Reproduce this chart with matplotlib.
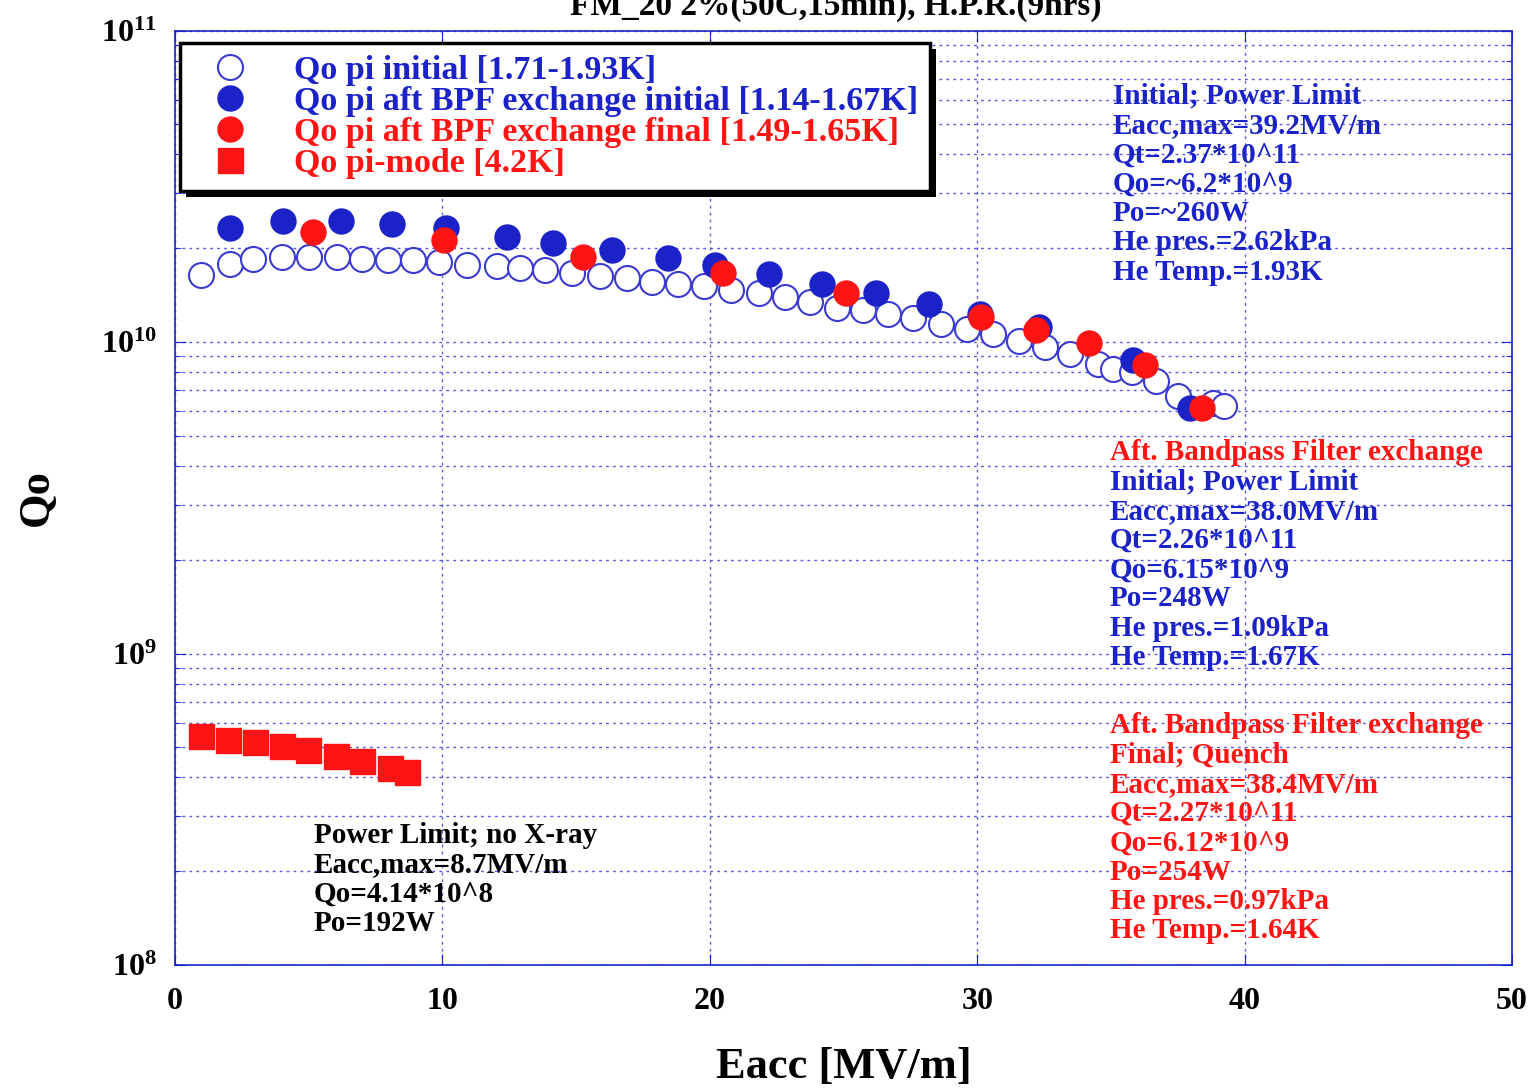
import numpy as np
import matplotlib
matplotlib.use('Agg')
import matplotlib.pyplot as plt
from matplotlib.patches import Rectangle
from matplotlib.ticker import FixedLocator, LogLocator, NullFormatter, FixedFormatter

plt.rcParams['font.family'] = ['Liberation Serif', 'DejaVu Serif']
plt.rcParams['font.weight'] = 'bold'
plt.rcParams['axes.labelweight'] = 'bold'
plt.rcParams['mathtext.fontset'] = 'custom'
plt.rcParams['mathtext.rm'] = 'Liberation Serif:bold'
plt.rcParams['mathtext.it'] = 'Liberation Serif:bold'
plt.rcParams['mathtext.bf'] = 'Liberation Serif:bold'

BLUE = '#1a22c8'
RED = '#ff1414'
GRID = '#5a5ae0'

# Qo pi initial [1.71-1.93K]
init_e = [0.96, 2.06, 2.93, 3.99, 5.02, 6.05, 6.98, 7.98, 8.91, 9.88, 10.91, 12.03, 12.90,
          13.84, 14.84, 15.89, 16.89, 17.83, 18.82, 19.78, 20.79, 21.85, 22.81, 23.75, 24.77,
          25.74, 26.68, 27.61, 28.64, 29.61, 30.60, 31.56, 32.53, 33.47, 34.53, 35.07, 35.78,
          36.69, 37.52, 38.83, 39.23]
init_q = [1.64e10, 1.78e10, 1.85e10, 1.87e10, 1.87e10, 1.88e10, 1.85e10, 1.84e10, 1.83e10,
          1.81e10, 1.77e10, 1.75e10, 1.73e10, 1.70e10, 1.66e10, 1.63e10, 1.60e10, 1.56e10,
          1.53e10, 1.51e10, 1.47e10, 1.44e10, 1.39e10, 1.34e10, 1.29e10, 1.27e10, 1.23e10,
          1.19e10, 1.14e10, 1.10e10, 1.06e10, 1.01e10, 9.66e9, 9.15e9, 8.51e9, 8.19e9, 7.99e9,
          7.47e9, 6.72e9, 6.39e9, 6.24e9]

# Qo pi aft BPF exchange initial [1.14-1.67K]
bpf_init_e = [2.06, 4.05, 6.20, 8.13, 10.12, 12.40, 14.15, 16.33, 18.45, 20.19, 22.22, 24.18,
              26.22, 28.21, 30.10, 32.31, 35.84, 37.96]
bpf_init_q = [2.32e10, 2.44e10, 2.44e10, 2.39e10, 2.32e10, 2.18e10, 2.08e10, 1.98e10, 1.86e10,
              1.77e10, 1.65e10, 1.54e10, 1.44e10, 1.32e10, 1.23e10, 1.12e10, 8.77e9, 6.14e9]

# Qo pi aft BPF exchange final [1.49-1.65K]
bpf_final_e = [5.15, 10.06, 15.25, 20.48, 25.08, 30.16, 32.20, 34.19, 36.27, 38.40]
bpf_final_q = [2.26e10, 2.12e10, 1.88e10, 1.66e10, 1.44e10, 1.20e10, 1.09e10, 9.91e9, 8.45e9, 6.14e9]

# Qo pi-mode [4.2K]
pimode_e = [0.96, 1.99, 2.99, 3.99, 4.99, 6.02, 7.00, 8.04, 8.67]
pimode_q = [5.42e8, 5.29e8, 5.19e8, 5.04e8, 4.89e8, 4.68e8, 4.51e8, 4.29e8, 4.16e8]

fig = plt.figure(figsize=(15.4, 10.88), dpi=100)
ax = fig.add_axes([175 / 1540, 1 - 965 / 1088, 1337 / 1540, 934.5 / 1088])

ax.plot(init_e, init_q, 'o', ms=18, mfc='white', mec='#3a3ad0', mew=1.5,
        label='Qo pi initial [1.71-1.93K]')
ax.plot(bpf_init_e, bpf_init_q, 'o', ms=18, mfc=BLUE, mec=BLUE,
        label='Qo pi aft BPF exchange initial [1.14-1.67K]')
ax.plot(bpf_final_e, bpf_final_q, 'o', ms=18, mfc=RED, mec=RED,
        label='Qo pi aft BPF exchange final [1.49-1.65K]')
ax.plot(pimode_e, pimode_q, 's', ms=18, mfc=RED, mec=RED,
        label='Qo pi-mode [4.2K]')

ax.set_yscale('log')
ax.set_xlim(0, 50)
ax.set_ylim(1e8, 1e11)
ax.xaxis.set_major_locator(FixedLocator([0, 10, 20, 30, 40, 50]))
ax.set_xticklabels(['0', '10', '20', '30', '40', '50'])
ax.yaxis.set_major_locator(FixedLocator([1e8, 1e9, 1e10, 1e11]))
ax.yaxis.set_major_formatter(FixedFormatter(['$10^{8}$', '$10^{9}$', '$10^{10}$', '$10^{11}$']))
ax.yaxis.set_minor_locator(LogLocator(base=10, subs=np.arange(2, 10)))
ax.yaxis.set_minor_formatter(NullFormatter())
ax.tick_params(which='both', direction='in', top=True, right=True, colors=BLUE,
               labelcolor='black', labelsize=23)
ax.tick_params(which='major', length=8)
ax.tick_params(which='minor', length=4)
ax.tick_params(axis='x', pad=16)
ax.tick_params(axis='y', pad=13)
for s in ax.spines.values():
    s.set_color(BLUE)
    s.set_linewidth(1.2)

ax.grid(True, which='major', axis='x', ls=(0, (2, 3)), color=GRID, lw=1)
ax.grid(True, which='both', axis='y', ls=(0, (2, 3)), color=GRID, lw=1)

ax.set_xlabel('Eacc [MV/m]', fontsize=32, labelpad=22)
ax.set_ylabel('Qo', fontsize=32, labelpad=32)

leg = ax.legend(loc='upper left', bbox_to_anchor=(0.004, 0.9866), borderaxespad=0,
                fontsize=24.5, frameon=True, fancybox=False, handletextpad=0.8,
                labelspacing=0.0, borderpad=0.35, handlelength=2.2, framealpha=1)
leg.get_frame().set_edgecolor('black')
leg.get_frame().set_linewidth(2.5)
for t, c in zip(leg.get_texts(), [BLUE, BLUE, RED, RED]):
    t.set_color(c)

# thick black drop shadow behind the legend box
fig.canvas.draw()
bb = leg.get_window_extent()
shadow = Rectangle((bb.x0 + 6, bb.y0 - 6), bb.width, bb.height, transform=None,
                   facecolor='black', edgecolor='none', zorder=leg.get_zorder() - 0.1)
ax.add_artist(shadow)

fig.text(836 / 1540, 1 - 15 / 1088, 'FM_20 2%(50C,15min), H.P.R.(9hrs)', fontsize=24,
         ha='center', va='baseline')


def block(x, y, lines, colors, dy=29.3, size=21):
    for i, (txt, c) in enumerate(zip(lines, colors)):
        fig.text(x / 1540, 1 - (y + i * dy) / 1088, txt, fontsize=size, color=c,
                 ha='left', va='baseline')


top_lines = ['Initial; Power Limit', 'Eacc,max=39.2MV/m', 'Qt=2.37*10^11', 'Qo=~6.2*10^9',
             'Po=~260W', 'He pres.=2.62kPa', 'He Temp.=1.93K']
block(1113, 104, top_lines, [BLUE] * 7)

mid_lines = ['Aft. Bandpass Filter exchange', 'Initial; Power Limit', 'Eacc,max=38.0MV/m',
             'Qt=2.26*10^11', 'Qo=6.15*10^9', 'Po=248W', 'He pres.=1.09kPa', 'He Temp.=1.67K']
block(1110, 460, mid_lines, [RED] + [BLUE] * 7)

bot_lines = ['Aft. Bandpass Filter exchange', 'Final; Quench', 'Eacc,max=38.4MV/m',
             'Qt=2.27*10^11', 'Qo=6.12*10^9', 'Po=254W', 'He pres.=0.97kPa', 'He Temp.=1.64K']
block(1110, 733, bot_lines, [RED] * 8)

pi_lines = ['Power Limit; no X-ray', 'Eacc,max=8.7MV/m', 'Qo=4.14*10^8', 'Po=192W']
block(314, 843, pi_lines, ['black'] * 4)

fig.savefig('out.png', dpi=100)
